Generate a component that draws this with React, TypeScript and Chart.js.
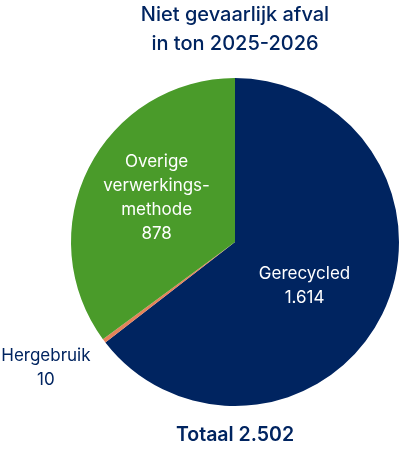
import React, { useEffect, useRef } from "react";
import { Chart, registerables } from "chart.js";

Chart.register(...registerables);

const categories = ["Gerecycled", "Hergebruik", "Overige verwerkingsmethode"];
const values = [1614, 10, 878];
const labelLines = [["Gerecycled", "1.614"], ["Hergebruik", "10"], ["Overige", "verwerkings-", "methode", "878"]];
const colors = ["#002460", "#E5825A", "#4A9B2A"];
const titleLines = ["Niet gevaarlijk afval", "in ton 2025-2026"];
const totalLabel = "Totaal 2.502";

// label placement relative to pie centre, as fraction of radius
const labelOffsets = [
  { dx: 0.424, dy: 0.27, color: "#ffffff" },
  { dx: -1.153, dy: 0.77, color: "#002460" },
  { dx: -0.478, dy: -0.27, color: "#ffffff" },
];

const FONT = "Inter, 'Noto Sans', sans-serif";

const textPlugin = {
  id: "customText",
  afterDraw(chart: any) {
    const ctx = chart.ctx;
    const meta = chart.getDatasetMeta(0);
    const arc = meta.data[0];
    const cx = arc.x;
    const cy = arc.y;
    const r = arc.outerRadius;
    ctx.save();
    ctx.textAlign = "center";
    ctx.textBaseline = "middle";
    // title
    ctx.fillStyle = "#002460";
    ctx.font = `500 20px ${FONT}`;
    titleLines.forEach((t, i) => ctx.fillText(t, cx, 15 + i * 29));
    // labels
    ctx.font = `400 17px ${FONT}`;
    labelLines.forEach((lines, i) => {
      const o = labelOffsets[i];
      const lx = cx + o.dx * r;
      const ly = cy + o.dy * r;
      const lh = 24;
      ctx.fillStyle = o.color;
      lines.forEach((l, j) => {
        ctx.fillText(l, lx, ly + (j - (lines.length - 1) / 2) * lh);
      });
    });
    // total
    ctx.fillStyle = "#002460";
    ctx.font = `600 19.5px ${FONT}`;
    ctx.fillText(totalLabel, cx, chart.chartArea.bottom + 29);
    ctx.restore();
  },
};

export default function App() {
  const ref = useRef<HTMLCanvasElement>(null);
  useEffect(() => {
    document.body.style.margin = "0";
    const chart = new Chart(ref.current!, {
      type: "pie",
      data: {
        labels: categories,
        datasets: [
          {
            data: values,
            backgroundColor: colors,
            borderWidth: 0,
          },
        ],
      },
      options: {
        animation: false,
        responsive: false,
        layout: { padding: { left: 71, right: 1, top: 78, bottom: 44 } },
        plugins: {
          legend: { display: false },
          title: { display: false },
          tooltip: { enabled: false },
        },
      },
      plugins: [textPlugin],
    });
    return () => chart.destroy();
  }, []);
  return (
    <div style={{ position: "absolute", left: 0, top: 0, width: 400, height: 450 }}>
      <canvas ref={ref} width={400} height={450} style={{ width: 400, height: 450 }} />
    </div>
  );
}
